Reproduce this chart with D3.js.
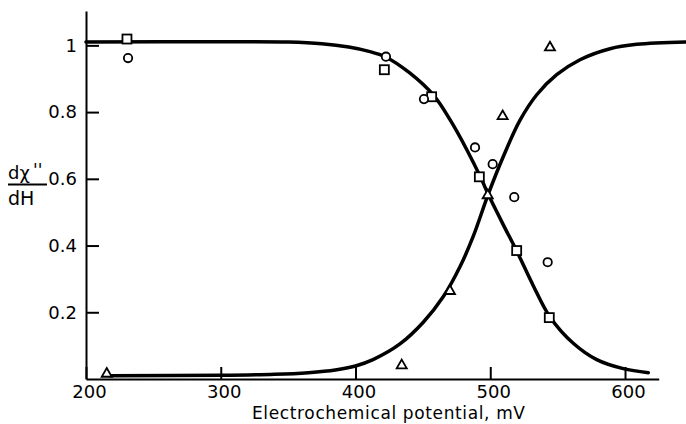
<!DOCTYPE html>
<html>
<head>
<meta charset="utf-8">
<script src="https://cdn.jsdelivr.net/npm/d3@7"></script>
<style>
  html, body { margin: 0; padding: 0; background: #fff; }
  svg { display: block; }
  text { font-family: "DejaVu Sans", sans-serif; fill: #000; }
</style>
</head>
<body>
<svg id="chart" width="686" height="424"></svg>
<script>
// ---- data ----
const xTickValues = [200, 300, 400, 500, 600];
const xTickLabels = ["200", "300", "400", "500", "600"];
const yTickValues = [0.2, 0.4, 0.6, 0.8, 1.0];
const yTickLabels = ["0.2", "0.4", "0.6", "0.8", "1"];

// squares
const squareE = [230.4, 421.4, 456.5, 491.9, 519.6, 543.8];
const squareY = [1.019, 0.927, 0.846, 0.606, 0.385, 0.184];
// circles
const circleE = [231.2, 422.6, 450.8, 488.7, 501.8, 517.8, 542.6];
const circleY = [0.962, 0.966, 0.839, 0.694, 0.644, 0.545, 0.350];
// triangles
const triangleE = [215.4, 434.3, 470.1, 498.1, 509.2, 544.3];
const triangleY = [0.017, 0.042, 0.265, 0.552, 0.789, 0.995];

// decreasing fitted curve
const fallE = [200, 300, 350, 375, 395, 410, 422, 440, 458, 470, 482.5, 493.7, 498.3, 509.7, 519.6, 532.0, 544.3, 561.6, 579.0, 598.7, 617.3];
const fallY = [1.010, 1.011, 1.010, 1.005, 0.995, 0.982, 0.966, 0.918, 0.850, 0.778, 0.688, 0.597, 0.555, 0.462, 0.384, 0.279, 0.186, 0.107, 0.058, 0.031, 0.019];
// increasing fitted curve
const riseE = [217.8, 300, 340, 365, 385, 400, 413, 433, 450.3, 465.2, 477.6, 487.4, 498.6, 509.7, 522, 534.5, 549.3, 566.6, 588.9, 608.7, 645];
const riseY = [0.010, 0.011, 0.014, 0.019, 0.027, 0.039, 0.058, 0.105, 0.170, 0.247, 0.337, 0.428, 0.555, 0.667, 0.775, 0.852, 0.912, 0.957, 0.990, 1.003, 1.010];

// ---- drawing ----
const svg = d3.select("#chart");
const x = d3.scaleLinear().domain([200, 625]).range([86, 658.7]);
const y = d3.scaleLinear().domain([0, 1.103]).range([379, 11]);

const g = svg.append("g");

// axes
const xAxis = d3.axisBottom(x)
  .tickValues(xTickValues)
  .tickFormat((d, i) => xTickLabels[i])
  .tickSizeInner(-12).tickSizeOuter(0).tickPadding(6);
const gx = g.append("g").attr("transform", "translate(0,379)").call(xAxis);
gx.selectAll("text").attr("font-size", 18).attr("font-family", "DejaVu Sans").attr("dx", 3);

const yAxis = d3.axisLeft(y)
  .tickValues(yTickValues)
  .tickFormat((d, i) => yTickLabels[i])
  .tickSizeInner(-13).tickSizeOuter(0).tickPadding(9);
const gy = g.append("g").attr("transform", "translate(86,0)").call(yAxis);
gy.selectAll("text").attr("font-size", 18).attr("font-family", "DejaVu Sans");

[gx, gy].forEach(a => {
  a.selectAll("path.domain").attr("stroke", "#000").attr("stroke-width", 2);
  a.selectAll(".tick line").attr("stroke", "#000").attr("stroke-width", 2);
});

// curves
const line = d3.line().x(d => x(d[0])).y(d => y(d[1])).curve(d3.curveCatmullRom.alpha(0.5));
g.append("path").datum(fallE.map((e, i) => [e, fallY[i]]))
  .attr("d", line).attr("fill", "none").attr("stroke", "#000").attr("stroke-width", 3.5)
  .attr("stroke-linecap", "round");
g.append("path").datum(riseE.map((e, i) => [e, riseY[i]]))
  .attr("d", line).attr("fill", "none").attr("stroke", "#000").attr("stroke-width", 3.5)
  .attr("stroke-linecap", "round");

// markers
const mk = g.append("g").attr("fill", "#fff").attr("stroke", "#000").attr("stroke-width", 1.8);
mk.selectAll("rect.sq").data(squareE.map((e, i) => [e, squareY[i]])).join("rect")
  .attr("x", d => x(d[0]) - 4.5).attr("y", d => y(d[1]) - 4.5)
  .attr("width", 9).attr("height", 9);
mk.selectAll("circle.ci").data(circleE.map((e, i) => [e, circleY[i]])).join("circle")
  .attr("cx", d => x(d[0])).attr("cy", d => y(d[1])).attr("r", 4.2);
const tri = d3.symbol().type(d3.symbolTriangle).size(44);
mk.selectAll("path.tr").data(triangleE.map((e, i) => [e, triangleY[i]])).join("path")
  .attr("d", tri).attr("transform", d => `translate(${x(d[0])},${y(d[1]) + 0.5})`);

// axis title
g.append("text").attr("x", 252).attr("y", 419)
  .attr("font-size", 17).attr("textLength", 273).attr("lengthAdjust", "spacing")
  .text("Electrochemical  potential, mV");

// y label as fraction
const yl = g.append("g");
yl.append("text").attr("x", 8).attr("y", 179).attr("font-size", 18).text("dχ");
yl.append("text").attr("x", 33).attr("y", 176).attr("font-size", 17).text("''");
yl.append("line").attr("x1", 8).attr("x2", 47).attr("y1", 184.5).attr("y2", 184.5)
  .attr("stroke", "#000").attr("stroke-width", 1.8);
yl.append("text").attr("x", 8).attr("y", 205).attr("font-size", 19).text("dH");
</script>
</body>
</html>
